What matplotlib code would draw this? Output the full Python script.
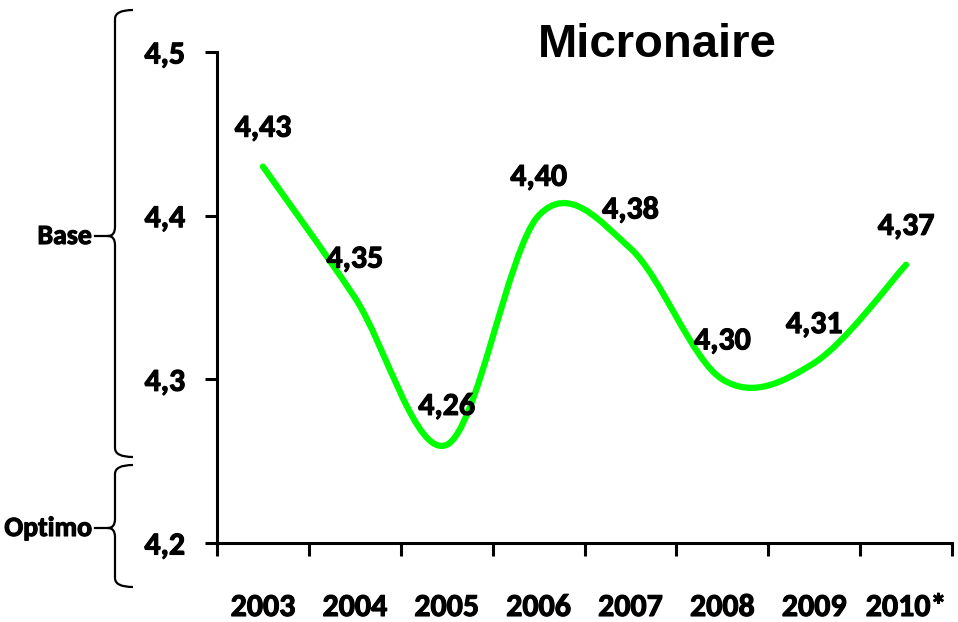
import numpy as np
from matplotlib import pyplot as plt
from matplotlib import patheffects as pe
from matplotlib.path import Path
from matplotlib.patches import PathPatch
from matplotlib.transforms import Affine2D

years = ["2003", "2004", "2005", "2006", "2007", "2008", "2009", "2010*"]
micronaire = [4.43, 4.35, 4.26, 4.40, 4.38, 4.30, 4.31, 4.37]
y_ticks = [4.2, 4.3, 4.4, 4.5]

plt.rcParams['font.family'] = ['Carlito', 'Lato', 'DejaVu Sans']
WEIGHT = 'bold'
FS = 23
# Calibri bold looks heavier than Lato bold, thicken a bit
THICK = [pe.withStroke(linewidth=0.8, foreground='black')]


def smooth_path(xs, ys):
    # Excel style smoothed line (Catmull-Rom as cubic Bezier)
    pts = np.column_stack([xs, ys])
    n = len(pts)
    verts = [pts[0]]
    codes = [Path.MOVETO]
    for i in range(n - 1):
        p0 = pts[max(i - 1, 0)]
        p1 = pts[i]
        p2 = pts[i + 1]
        p3 = pts[min(i + 2, n - 1)]
        verts += [p1 + (p2 - p0) / 6., p2 - (p3 - p1) / 6., p2]
        codes += [Path.CURVE4] * 3
    return Path(verts, codes)


def brace(x_line, x_end, x_tip, top, mid, bottom, r=9):
    verts = [(x_end, top), (x_line, top), (x_line, top + r),
             (x_line, mid - r), (x_line, mid), (x_tip, mid),
             (x_line, mid), (x_line, mid + r),
             (x_line, bottom - r), (x_line, bottom), (x_end, bottom)]
    codes = [Path.MOVETO, Path.CURVE3, Path.CURVE3,
             Path.LINETO, Path.CURVE3, Path.CURVE3,
             Path.CURVE3, Path.CURVE3,
             Path.LINETO, Path.CURVE3, Path.CURVE3]
    return Path(verts, codes)


W, H = 958, 622
fig = plt.figure(figsize=(W / 100, H / 100), dpi=100)
ax = fig.add_axes([217 / W, 1 - 543 / H, (952 - 217) / W, (543 - 52) / H])

x = np.arange(len(years))
ax.add_patch(PathPatch(smooth_path(x, micronaire), facecolor='none',
                       edgecolor='#00ff00', lw=4.5, capstyle='round', zorder=3))

for xi, v in zip(x, micronaire):
    ax.annotate(f"{v:.2f}".replace('.', ','), (xi, v), xytext=(0, 28),
                textcoords='offset points', ha='center', va='center',
                fontsize=FS, fontweight=WEIGHT, zorder=4, path_effects=THICK)

ax.set_xlim(-0.5, len(years) - 0.5)
ax.set_ylim(4.2, 4.5)
ax.set_yticks(y_ticks)
ax.set_yticklabels([f"{t:.1f}".replace('.', ',') for t in y_ticks])
ax.set_xticks(np.arange(-0.5, len(years)), labels=[])
ax.set_xticks(x, labels=years, minor=True)

for s in ['top', 'right']:
    ax.spines[s].set_visible(False)
for s in ['left', 'bottom']:
    ax.spines[s].set_linewidth(2.2)

ax.tick_params(axis='y', direction='out', length=9, width=2.2, pad=14,
               labelsize=FS)
ax.tick_params(axis='x', which='major', direction='out', length=9.5,
               width=2.2)
ax.tick_params(axis='x', which='minor', length=0, pad=36, labelsize=FS)
for lab in ax.get_xticklabels(minor=True) + ax.get_yticklabels():
    lab.set_fontweight(WEIGHT)
    lab.set_path_effects(THICK)

fig.text(657 / W, 1 - 45 / H, "Micronaire", ha='center', va='center',
         fontsize=34, fontweight='bold', family='Liberation Sans')

# braces on the left, in pixel coordinates
px = Affine2D().scale(1 / W, -1 / H).translate(0, 1) + fig.transFigure
for top, mid, bottom, label in [(10, 236, 457, "Base"),
                                (465, 528, 587, "Optimo")]:
    fig.add_artist(PathPatch(brace(115, 133, 108, top, mid, bottom),
                             facecolor='none', edgecolor='black', lw=1.6,
                             transform=px))
    fig.add_artist(plt.Line2D([95, 108], [mid, mid], color='black', lw=1.6,
                              transform=px))
    fig.text(92 / W, 1 - mid / H, label, ha='right', va='center',
             fontsize=20, fontweight=WEIGHT, path_effects=THICK)

fig.savefig("out.png", dpi=100)
